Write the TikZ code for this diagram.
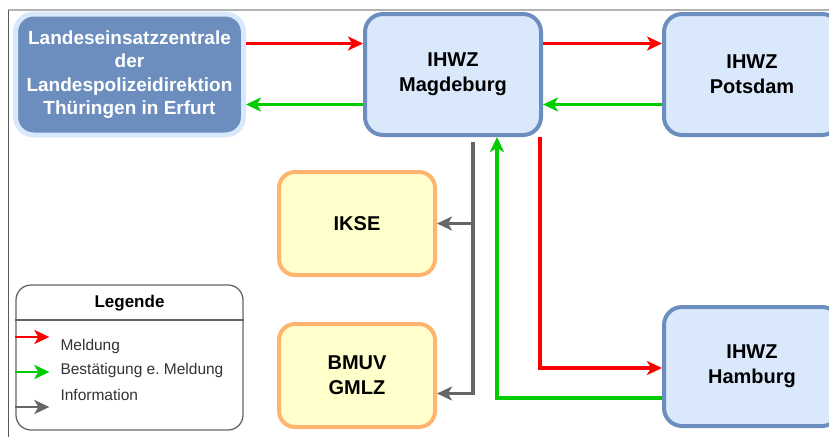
\documentclass[tikz,border=0pt]{standalone}
\usepackage{fontspec}
\setmainfont{Liberation Sans}
\usetikzlibrary{arrows.meta}
\definecolor{hubline}{HTML}{6C8EBF}
\definecolor{hubfill}{HTML}{DAE8FC}
\definecolor{agline}{HTML}{FFB570}
\definecolor{agfill}{HTML}{FFFFCC}
\definecolor{meldred}{HTML}{FF0000}
\definecolor{ackgreen}{HTML}{00CC00}
\definecolor{infogray}{HTML}{666666}
\definecolor{legtext}{HTML}{333333}
\definecolor{pagetop}{HTML}{B3B3B3}
\definecolor{pageleft}{HTML}{595959}
\frenchspacing

\begin{document}
\begin{tikzpicture}[x=1pt,y=-1pt,
  hub/.style={draw=hubline, line width=4pt, fill=hubfill, rounded corners=18pt,
              align=center, inner sep=0pt, text=black,
              font=\fontsize{20}{25}\selectfont\bfseries,
              minimum width=176pt, minimum height=121pt},
  lead/.style={draw=hubfill, line width=5pt, fill=hubline, rounded corners=18pt,
               align=center, inner sep=0pt, text=white,
               font=\fontsize{19}{23.5}\selectfont\bfseries,
               minimum width=228pt, minimum height=121pt},
  agency/.style={draw=agline, line width=4pt, fill=agfill, rounded corners=16pt,
                 align=center, inner sep=0pt, text=black,
                 font=\fontsize{20}{25}\selectfont\bfseries,
                 minimum width=156pt, minimum height=103pt},
  meld/.style={draw=meldred, line width=3.2pt, -{Stealth[length=15pt,width=14pt,inset=4pt]}},
  ack/.style={draw=ackgreen, line width=3.2pt, -{Stealth[length=15pt,width=14pt,inset=4pt]}},
  info/.style={draw=infogray, line width=3.2pt, -{Stealth[length=15pt,width=14pt,inset=4pt]}},
  legbox/.style={draw=infogray, line width=1.3pt, rounded corners=15pt, fill=white,
                 minimum width=227pt, minimum height=145pt, inner sep=0pt},
  legitem/.style={anchor=west, text=legtext, font=\fontsize{15.5}{18}\selectfont}]

\useasboundingbox (0,0) rectangle (829,437);

% page edges
\draw[draw=pagetop, line width=1.5pt] (8,10) -- (829,10);
\draw[draw=pageleft, line width=1pt] (8,10) -- (8,437);

% ------------------------------------------------------------------ boxes
\node[lead] (lez) at (129.5,74.5)
  {Landeseinsatzzentrale\\der\\Landespolizeidirektion\\Thüringen in Erfurt};
\node[hub] (magdeburg) at (453,74.5) {IHWZ\\Magdeburg};
\node[hub] (potsdam) at (752,74.5) {IHWZ\\Potsdam};
\node[hub, minimum height=119pt] (hamburg) at (752,366.5) {IHWZ\\Hamburg};
\node[agency] (ikse) at (357,223.5) {IKSE};
\node[agency] (bmuv) at (357,375.5) {BMUV\\GMLZ};

% ------------------------------------------------------------------ connectors
\draw[meld] ([yshift=31pt]lez.east) -- ([yshift=31pt]magdeburg.west);
\draw[ack] ([yshift=-30pt]magdeburg.west) -- ([yshift=-30pt]lez.east);
\draw[meld] ([yshift=31pt]magdeburg.east) -- ([yshift=31pt]potsdam.west);
\draw[ack] ([yshift=-30pt]potsdam.west) -- ([yshift=-30pt]magdeburg.east);

% information to IKSE and BMUV
\draw[info] ([shift={(20pt,-5pt)}]magdeburg.south) |- (ikse.east);
\draw[info] ([shift={(20pt,-5pt)}]magdeburg.south) |- ([yshift=-18pt]bmuv.east);

% Hamburg: report down, confirmation back up
\draw[meld] ([xshift=-3pt]magdeburg.south east) |- ([yshift=-1.5pt]hamburg.west);
\draw[ack] ([yshift=-31.5pt]hamburg.west) -| ([xshift=44pt]magdeburg.south);

% ------------------------------------------------------------------ legend
\node[legbox] (legend) at (129.5,357.5) {};
\node[font=\fontsize{17}{20}\selectfont\bfseries] (legtitle) at (129.5,303) {Legende};
\draw[draw=infogray, line width=1.3pt] (legend.west |- 0,320) -- (legend.east |- 0,320);

\draw[meld, line width=2.8pt] ([yshift=20.5pt]legend.west) -- ++(34,0);
\draw[ack, line width=2.8pt] ([yshift=-14.5pt]legend.west) -- ++(34,0);
\draw[info, line width=2.8pt] ([yshift=-49.5pt]legend.west) -- ++(34,0);
\node[legitem] (meldung) at (57,346) {Meldung};
\node[legitem] (bestaetigung) at (57,370) {Bestätigung e. Meldung};
\node[legitem] (information) at (57,395) {Information};
\end{tikzpicture}
\end{document}
